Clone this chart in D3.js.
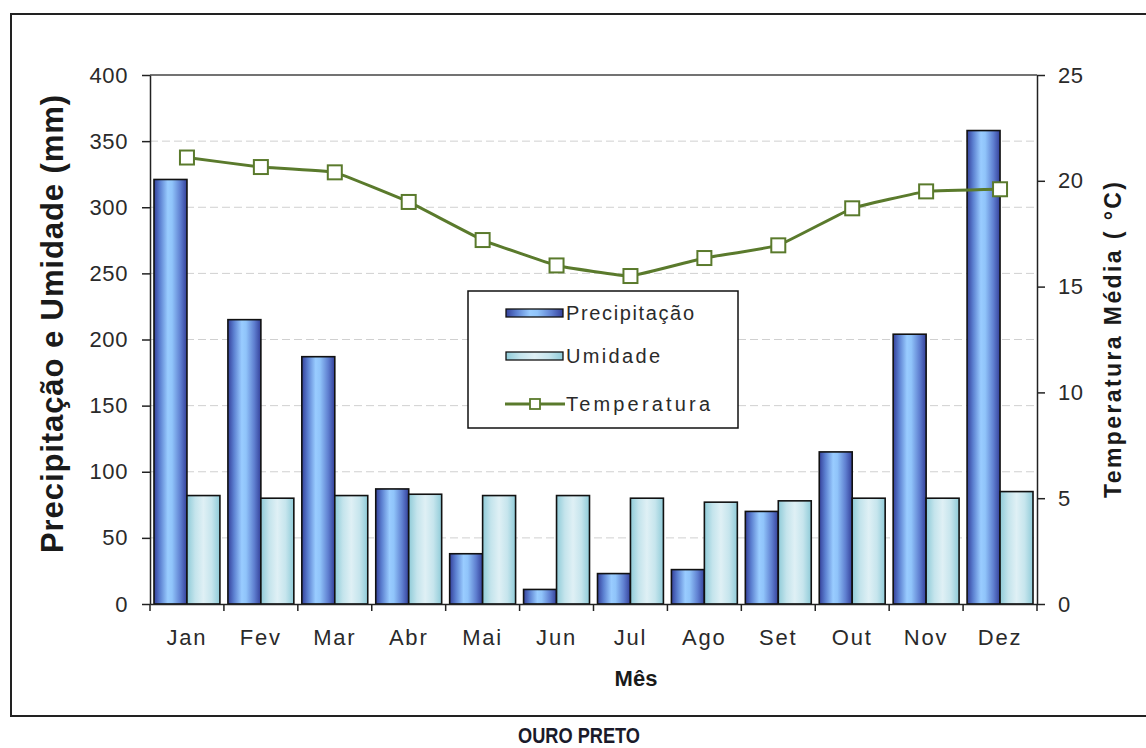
<!DOCTYPE html>
<html>
<head>
<meta charset="utf-8">
<script src="https://cdn.jsdelivr.net/npm/d3@7"></script>
<style>
  html, body { margin: 0; padding: 0; background: #fff; }
  svg { display: block; font-family: "Liberation Sans", Arial, sans-serif; }
</style>
</head>
<body>
<svg id="chart" width="1146" height="748"></svg>
<script>
// Monthly climate normals — Ouro Preto
const months = ["Jan", "Fev", "Mar", "Abr", "Mai", "Jun", "Jul", "Ago", "Set", "Out", "Nov", "Dez"];
const precipitacao = [321, 215, 187, 87, 38, 11, 23, 26, 70, 115, 204, 358];
const umidade = [82, 80, 82, 83, 82, 82, 80, 77, 78, 80, 80, 85];
const temperatura = [21.1, 20.65, 20.4, 19.0, 17.2, 16.0, 15.5, 16.35, 16.95, 18.7, 19.5, 19.6];
const leftTicks = [0, 50, 100, 150, 200, 250, 300, 350, 400];
const rightTicks = [0, 5, 10, 15, 20, 25];

const svg = d3.select("#chart");
const plot = { left: 150, right: 1037, top: 75, bottom: 604 };

const x = d3.scaleBand().domain(months).range([plot.left, plot.right]).paddingInner(0).paddingOuter(0);
const yL = d3.scaleLinear().domain([0, 400]).range([plot.bottom, plot.top]);
const yR = d3.scaleLinear().domain([0, 25]).range([plot.bottom, plot.top]);

// Gradients for the bars
const defs = svg.append("defs");
const gP = defs.append("linearGradient").attr("id", "gradP").attr("x1", "0").attr("x2", "1").attr("y1", "0").attr("y2", "0");
[["0%", "#34409a"], ["18%", "#5b7fd0"], ["42%", "#99ccff"], ["55%", "#90c4fa"], ["80%", "#5f7fd0"], ["100%", "#34409a"]]
  .forEach(([o, c]) => gP.append("stop").attr("offset", o).attr("stop-color", c));
const gU = defs.append("linearGradient").attr("id", "gradU").attr("x1", "0").attr("x2", "1").attr("y1", "0").attr("y2", "0");
[["0%", "#8fcbd8"], ["25%", "#c4e4ec"], ["50%", "#dff0f5"], ["75%", "#c6e5ed"], ["100%", "#8fcbd8"]]
  .forEach(([o, c]) => gU.append("stop").attr("offset", o).attr("stop-color", c));

// Outer chart frame
svg.append("rect").attr("x", 11).attr("y", 14).attr("width", 1150).attr("height", 702)
  .attr("fill", "#fff").attr("stroke", "#222").attr("stroke-width", 2);

// Gridlines
svg.append("g").selectAll("line").data(leftTicks.filter(d => d > 0 && d < 400)).join("line")
  .attr("x1", plot.left).attr("x2", plot.right)
  .attr("y1", d => yL(d)).attr("y2", d => yL(d))
  .attr("stroke", "#d0d0d0").attr("stroke-width", 1).attr("stroke-dasharray", "8,4");

// Plot-area top border
svg.append("line").attr("x1", plot.left).attr("x2", plot.right).attr("y1", plot.top).attr("y2", plot.top)
  .attr("stroke", "#444").attr("stroke-width", 1.5);

// Bars
const pad = 4;
const bw = (x.bandwidth() - 2 * pad) / 2;
const bars = svg.append("g");
bars.selectAll("rect.p").data(months).join("rect").attr("class", "p")
  .attr("x", d => x(d) + pad).attr("width", bw)
  .attr("y", (d, i) => yL(precipitacao[i])).attr("height", (d, i) => yL(0) - yL(precipitacao[i]))
  .attr("fill", "url(#gradP)").attr("stroke", "#111").attr("stroke-width", 1.6);
bars.selectAll("rect.u").data(months).join("rect").attr("class", "u")
  .attr("x", d => x(d) + pad + bw).attr("width", bw)
  .attr("y", (d, i) => yL(umidade[i])).attr("height", (d, i) => yL(0) - yL(umidade[i]))
  .attr("fill", "url(#gradU)").attr("stroke", "#111").attr("stroke-width", 1.6);

// Axes
const axisStyle = g => {
  g.select(".domain").attr("stroke", "#222").attr("stroke-width", 1.5);
  g.selectAll(".tick line").attr("stroke", "#222").attr("stroke-width", 1.5);
  g.selectAll(".tick text").attr("fill", "#2a2a2a").style("font-size", "22px")
    .style("letter-spacing", "0.6px")
    .style("font-family", "'Liberation Sans', Arial, sans-serif");
};
svg.append("g").attr("transform", `translate(${plot.left},0)`)
  .call(d3.axisLeft(yL).tickValues(leftTicks).tickSizeInner(8).tickSizeOuter(0).tickPadding(14))
  .call(axisStyle);
svg.append("g").attr("transform", `translate(${plot.right},0)`)
  .call(d3.axisRight(yR).tickValues(rightTicks).tickSizeInner(8).tickSizeOuter(0).tickPadding(13))
  .call(axisStyle);
svg.append("g").attr("transform", `translate(0,${plot.bottom})`)
  .call(d3.axisBottom(x).tickSize(0).tickPadding(25).tickSizeOuter(0))
  .call(axisStyle)
  .call(g => g.selectAll(".tick text").style("letter-spacing", "1.8px"));
// Category boundary ticks
svg.append("g").selectAll("line").data(d3.range(months.length + 1)).join("line")
  .attr("x1", i => plot.left + i * x.step()).attr("x2", i => plot.left + i * x.step())
  .attr("y1", plot.bottom).attr("y2", plot.bottom + 7)
  .attr("stroke", "#222").attr("stroke-width", 1.5);

// Temperature line
const green = "#5a7a2c";
const line = d3.line().x((d, i) => x(months[i]) + x.bandwidth() / 2).y(d => yR(d))
  .curve(d3.curveCardinal.tension(0.75));
svg.append("path").datum(temperatura).attr("d", line)
  .attr("fill", "none").attr("stroke", green).attr("stroke-width", 3);
const ms = 14;
svg.append("g").selectAll("rect").data(temperatura).join("rect")
  .attr("x", (d, i) => x(months[i]) + x.bandwidth() / 2 - ms / 2)
  .attr("y", d => yR(d) - ms / 2)
  .attr("width", ms).attr("height", ms)
  .attr("fill", "#fff").attr("stroke", green).attr("stroke-width", 2);

// Legend
const lg = svg.append("g");
lg.append("rect").attr("x", 468).attr("y", 291).attr("width", 270).attr("height", 137)
  .attr("fill", "#fff").attr("stroke", "#111").attr("stroke-width", 1.5);
const legendItems = [
  { label: "Precipitação", y: 313, type: "bar", fill: "url(#gradP)", len: 128 },
  { label: "Umidade", y: 356, type: "bar", fill: "url(#gradU)", len: 94 },
  { label: "Temperatura", y: 404, type: "line", len: 144 }
];
legendItems.forEach(it => {
  if (it.type === "bar") {
    lg.append("rect").attr("x", 506).attr("y", it.y - 4).attr("width", 57).attr("height", 8)
      .attr("fill", it.fill).attr("stroke", "#111").attr("stroke-width", 1.3);
  } else {
    lg.append("line").attr("x1", 505).attr("x2", 565).attr("y1", it.y).attr("y2", it.y)
      .attr("stroke", green).attr("stroke-width", 3);
    lg.append("rect").attr("x", 530).attr("y", it.y - 5).attr("width", 10).attr("height", 10)
      .attr("fill", "#fff").attr("stroke", green).attr("stroke-width", 1.8);
  }
  lg.append("text").attr("x", 566).attr("y", it.y).attr("dy", "0.35em")
    .attr("fill", "#2a2a2a").style("font-size", "20px")
    .attr("textLength", it.len).attr("lengthAdjust", "spacing").text(it.label);
});

// Axis titles
svg.append("text").attr("transform", "translate(52,324) rotate(-90)")
  .attr("text-anchor", "middle").attr("dy", "0.35em").attr("fill", "#1a1a1a")
  .style("font-size", "31px").style("font-weight", "bold")
  .attr("textLength", 458).attr("lengthAdjust", "spacing")
  .text("Precipitação e Umidade (mm)");
svg.append("text").attr("transform", "translate(1113,340) rotate(-90)")
  .attr("text-anchor", "middle").attr("dy", "0.35em").attr("fill", "#1a1a1a")
  .style("font-size", "23px").style("font-weight", "bold")
  .attr("textLength", 316).attr("lengthAdjust", "spacing")
  .text("Temperatura Média ( °C)");
svg.append("text").attr("x", 636).attr("y", 686).attr("text-anchor", "middle").attr("fill", "#1a1a1a")
  .style("font-size", "22px").style("font-weight", "bold").text("Mês");
svg.append("text").attr("x", 579).attr("y", 743).attr("text-anchor", "middle").attr("fill", "#1a1a2a")
  .style("font-size", "22px").style("font-weight", "bold")
  .attr("textLength", 122).attr("lengthAdjust", "spacingAndGlyphs")
  .text("OURO PRETO");
</script>
</body>
</html>
